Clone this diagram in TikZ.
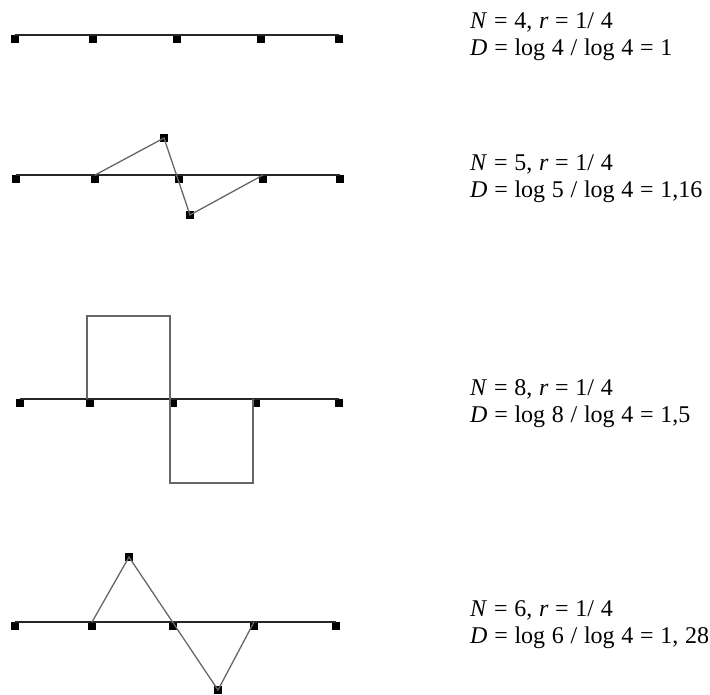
\documentclass[tikz,border=0pt]{standalone}
\usepackage{fontspec}
\setmainfont{Liberation Serif}
\usepackage{tikz}
\usetikzlibrary{positioning}

\newcommand{\vN}{\textit{N}}
\newcommand{\vr}{\textit{r}}
\newcommand{\vD}{\textit{D}}
\newcommand{\gap}{\hspace{0.28em}}

\begin{document}
\begin{tikzpicture}[
        x=1pt, y=-1pt,
        dot/.style={rectangle, fill=black, inner sep=0pt, minimum size=7.5pt},
        base/.style={draw=black!85, line width=1.5pt},
        gen/.style={draw=black!60, line width=1.3pt},
        formula/.style={anchor=west, align=left, font=\fontsize{24}{27}\selectfont, inner sep=0pt}
    ]
    \useasboundingbox (0,0) rectangle (710,695);

    % Nodes: row 1
    \node[dot] (a0) at (15,39) {};
    \node[dot] (a1) at (93,39) {};
    \node[dot] (a2) at (177,39) {};
    \node[dot] (a3) at (261,39) {};
    \node[dot] (a4) at (339,39) {};
    \node[formula] (fa) at (470,37) {\vN\gap=\gap4,\gap\vr\gap=\gap1/\gap4\\\vD\gap=\gap log\gap4\gap/\gap log\gap4\gap=\gap1};

    % Nodes: row 2
    \node[dot] (b0) at (16,179) {};
    \node[dot] (b1) at (95,179) {};
    \node[dot] (b2) at (179,179) {};
    \node[dot] (b3) at (263,179) {};
    \node[dot] (b4) at (340,179) {};
    \node[dot] (bu) at (164,138) {};
    \node[dot] (bd) at (190,215) {};
    \node[formula] (fb) at (470,179) {\vN\gap=\gap5,\gap\vr\gap=\gap1/\gap4\\\vD\gap=\gap log\gap5\gap/\gap log\gap4\gap=\gap1,16};

    % Nodes: row 3
    \node[dot] (c0) at (20,403) {};
    \node[dot] (c1) at (90,403) {};
    \node[dot] (c2) at (173,403) {};
    \node[dot] (c3) at (256,403) {};
    \node[dot] (c4) at (339,403) {};
    \coordinate (ctl) at (87,316);
    \coordinate (ctr) at (170,316);
    \coordinate (cbl) at (170,483);
    \coordinate (cbr) at (253,483);
    \node[formula] (fc) at (470,404) {\vN\gap=\gap8,\gap\vr\gap=\gap1/\gap4\\\vD\gap=\gap log\gap8\gap/\gap log\gap4\gap=\gap1,5};

    % Nodes: row 4
    \node[dot] (d0) at (15,626) {};
    \node[dot] (d1) at (92,626) {};
    \node[dot] (d2) at (173,626) {};
    \node[dot] (d3) at (254,626) {};
    \node[dot] (d4) at (336,626) {};
    \node[dot] (du) at (129,557) {};
    \node[dot] (dd) at (218,690) {};
    \node[formula] (fd) at (470,625) {\vN\gap=\gap6,\gap\vr\gap=\gap1/\gap4\\\vD\gap=\gap log\gap6\gap/\gap log\gap4\gap=\gap1,\gap28};

    % Lines
    \draw[base] (a0.north) -- (a4.north);

    \draw[base] (b0.north) -- (b4.north);
    \draw[gen] (b1.north) -- (bu.center) -- (bd.center) -- (b3.north);

    \draw[base] (c0.north) -- (c4.north);
    \draw[gen] (c1.north -| ctl) -- (ctl) -- (ctr) -- (cbl) -- (cbr) -- (c3.north -| cbr);

    \draw[base] (d0.north) -- (d4.north);
    \draw[gen] (d1.north) -- (du.center) -- (dd.center) -- (d3.north);

\end{tikzpicture}
\end{document}
